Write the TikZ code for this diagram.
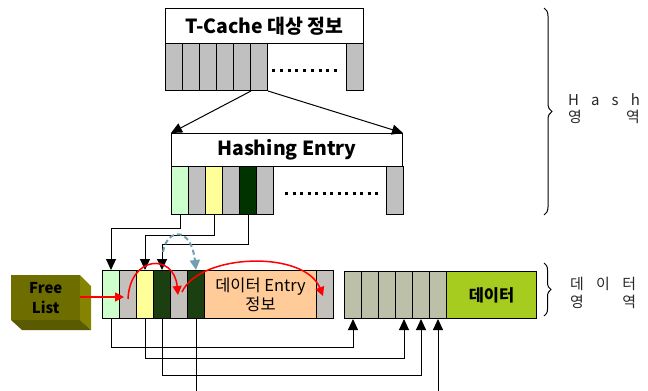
\documentclass[tikz,border=0pt]{standalone}
\usepackage{fontspec}
\setmainfont{Noto Sans CJK KR}
\usetikzlibrary{arrows.meta,decorations.pathreplacing}
\definecolor{hgray}{HTML}{C0C0C0}
\definecolor{lgrn}{HTML}{CCFFCC}
\definecolor{lyel}{HTML}{FFFF99}
\definecolor{dgrn}{HTML}{003300}
\definecolor{wgray}{HTML}{C4C0BC}
\definecolor{rgrn}{HTML}{1C3F12}
\definecolor{peach}{HTML}{FFCC99}
\definecolor{dbgray}{HTML}{BCC0A8}
\definecolor{datagrn}{HTML}{A5CC1E}
\definecolor{olivefront}{HTML}{6E6E00}
\definecolor{oliveside}{HTML}{848400}
\definecolor{olivebot}{HTML}{5A5A00}
\definecolor{swapblue}{HTML}{6FA0B0}

\begin{document}
\begin{tikzpicture}[x=1bp,y=-1bp,
    cell/.style={draw, line width=1bp, anchor=north west, inner sep=0pt,
      minimum width=17bp, minimum height=47bp},
    titlebox/.style={draw, line width=1bp, anchor=north west, inner sep=0pt,
      font=\bfseries\fontsize{19.5}{22}\selectfont},
    link/.style={line width=1bp, -{Triangle[width=10bp,length=11bp]}},
    redlink/.style={red, line width=1.5bp, -{Triangle[width=9bp,length=9bp]}},
    dots/.style={line width=3bp, dash pattern=on 3bp off 4.75bp},
    side/.style={font=\fontsize{15}{17}\selectfont, text=black!85}]
  \useasboundingbox (0,0) rectangle (648,390);

  % T-Cache
  \node[titlebox, minimum width=198bp, minimum height=35bp] (tcache) at (165,8) {T-Cache 대상 정보};
  \foreach \i in {1,...,6}
    \node[cell, fill=hgray] (tc\i) at ({148+17*\i},43) {};
  \node[cell, fill=hgray] (tclast) at (346,43) {};
  \draw[dots] (272,70) -- (339,70);

  % Hashing Entry
  \node[titlebox, minimum width=231bp, minimum height=33bp] (hash) at (171,133) {Hashing Entry};
  \foreach \i/\c in {1/lgrn,2/hgray,3/lyel,4/hgray,5/dgrn,6/hgray}
    \node[cell, fill=\c, minimum height=48bp] (hc\i) at ({154+17*\i},166) {};
  \node[cell, fill=hgray, minimum height=48bp] (hclast) at (386,166) {};
  \draw[dots, dash pattern=on 3bp off 4.5bp] (285,193) -- (379,193);

  \draw[link] (tc5.south east) -- (hash.north west);
  \draw[link] (tc6.south east) -- (hash.north east);

  % data entry row
  \foreach \i/\c in {1/lgrn,2/wgray,3/lyel,4/rgrn,5/wgray,6/rgrn}
    \node[cell, fill=\c, minimum height=48bp] (dr\i) at ({85+17*\i},270) {};
  \node[cell, fill=peach, minimum width=112bp, minimum height=48bp, align=center,
    font=\fontsize{16.5}{19}\selectfont] (entry) at (204,270) {데이터 Entry\\정보};
  \node[cell, fill=wgray, minimum height=48bp] (drlast) at (316,270) {};

  % data block
  \foreach \i in {1,...,6}
    \node[cell, fill=dbgray] (db\i) at ({327+17*\i},271) {};
  \node[cell, fill=datagrn, minimum width=90bp, font=\bfseries\fontsize{16.5}{19}\selectfont] (data) at (446,271) {데이터};

  % free list
  \fill[oliveside] (80,275) -- (91,286) -- (91,330) -- (80,320) -- cycle;
  \fill[olivebot] (11,320) -- (80,320) -- (91,330) -- (22,330) -- cycle;
  \node[anchor=north west, fill=olivefront, minimum width=69bp, minimum height=45bp,
    inner sep=0pt, align=center, font=\bfseries\fontsize{15}{20}\selectfont] (free) at (11,275) {Free\\List};

  % hash -> data entry
  \draw[link] (hc1.south) -- ++(0,13) -| (dr1.north);
  \draw[link] (hc3.south) -- ++(0,20) -| (dr3.north);
  \draw[link] (hc5.south) -- ++(0,29) -| (dr4.north);

  % data entry -> data block
  \draw[link] (dr1.south) -- ++(0,28) -| (db1.south);
  \draw[link] (dr3.south) -- ++(0,39) -| (db4.south);
  \draw[link] (dr4.south) -- ++(0,56) -| (db5.south);
  \draw[link] (dr6.south) -- ++(0,90) -| (db6.south);

  % swap and free chain
  \coordinate (swap) at (163,252);
  \draw[swapblue, line width=2bp, dash pattern=on 5bp off 3bp,
    -{Triangle[width=10bp,length=10bp]}] (swap) .. controls (167,228) and (191,226) .. (dr6.north);
  \coordinate (fin) at (124,297);
  \draw[redlink] (free.east |- fin) -- (fin);
  \coordinate (arcA) at (128,299);
  \coordinate (arcB) at (178,295);
  \coordinate (arcC) at (182,292);
  \coordinate (arcD) at (323,296);
  \draw[redlink] (arcA) .. controls (130,255) and (174,253) .. (arcB);
  \draw[redlink] (arcC) .. controls (200,253) and (305,250) .. (arcD);

  % braces
  \draw[line width=1bp, decorate, decoration={brace, amplitude=8bp}] (544,8) -- (544,215);
  \draw[line width=1bp, decorate, decoration={brace, amplitude=7bp}] (544,263) -- (544,316);
  \node[side] (hashl1) at (604,100) {\makebox[72bp]{H\hfill a\hfill s\hfill h}};
  \node[side] (hashl2) at (604,117) {\makebox[72bp]{영\hfill 역}};
  \node[side] (datal1) at (603,284) {\makebox[66bp]{데\hfill 이\hfill 터}};
  \node[side] (datal2) at (603,302) {\makebox[66bp]{영\hfill 역}};
\end{tikzpicture}
\end{document}
